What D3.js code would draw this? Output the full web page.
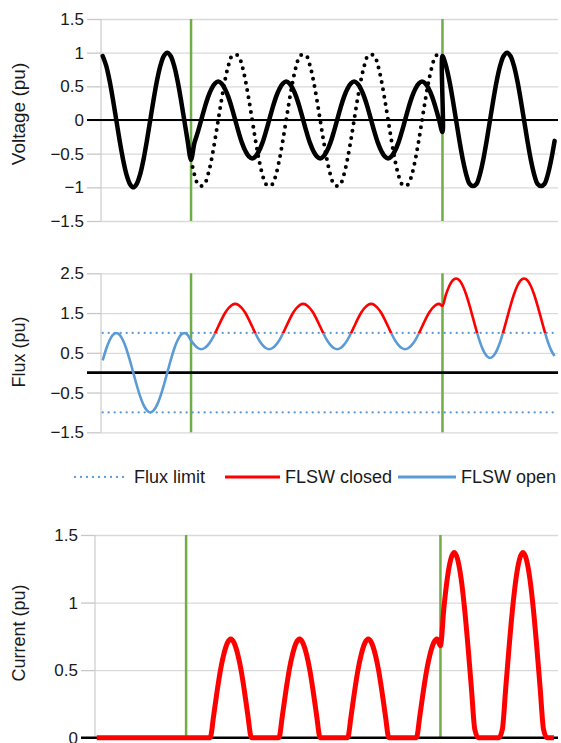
<!DOCTYPE html>
<html>
<head>
<meta charset="utf-8">
<script src="https://cdn.jsdelivr.net/npm/d3@7"></script>
<style>
body{margin:0;background:#fff;}
svg{display:block;font-family:"Liberation Sans",Arial,sans-serif;}
</style>
</head>
<body>
<div id="chart"></div>
<script>
// time axis in ms, one sample per ms, first sample at t=1
const tFirst = 1;
const switchTimes = [27, 101];   // green markers: FLSW event times

// source voltage (pu), t = 1..134
const vSource = [
  0.95, 0.81, 0.59, 0.31, 0.00, -0.31, -0.59, -0.81, -0.95, -1.00, -0.95, -0.81, -0.59, -0.31, 0.00, 0.31, 0.59, 0.81, 0.95, 1.00,
  0.95, 0.81, 0.59, 0.31, 0.00, -0.31, -0.59, -0.81, -0.95, -0.98, -0.95, -0.81, -0.59, -0.31, 0.00, 0.31, 0.59, 0.81, 0.95, 0.97,
  0.95, 0.81, 0.59, 0.31, 0.00, -0.31, -0.59, -0.81, -0.95, -0.98, -0.95, -0.81, -0.59, -0.31, 0.00, 0.31, 0.59, 0.81, 0.95, 0.97,
  0.95, 0.81, 0.59, 0.31, 0.00, -0.31, -0.59, -0.81, -0.95, -0.98, -0.95, -0.81, -0.59, -0.31, 0.00, 0.31, 0.59, 0.81, 0.95, 0.97,
  0.95, 0.81, 0.59, 0.31, 0.00, -0.31, -0.59, -0.81, -0.95, -0.98, -0.95, -0.81, -0.59, -0.31, 0.00, 0.31, 0.59, 0.81, 0.95, 0.97,
  0.95, 0.81, 0.59, 0.31, 0.00, -0.31, -0.59, -0.81, -0.95, -0.98, -0.95, -0.81, -0.59, -0.31, 0.00, 0.31, 0.59, 0.81, 0.95, 1.00,
  0.95, 0.81, 0.59, 0.31, 0.00, -0.31, -0.59, -0.81, -0.95, -0.98, -0.95, -0.81, -0.59, -0.31
];

// sagged voltage while FLSW window is active, t = 28..101
const vSagStart = 28;
const vSag = [
  -0.34, -0.18, 0.00, 0.18, 0.34, 0.46, 0.54, 0.57, 0.54, 0.46, 0.34, 0.18,
  0.00, -0.18, -0.34, -0.46, -0.54, -0.57, -0.54, -0.46, -0.34, -0.18, 0.00, 0.18, 0.34, 0.46, 0.54, 0.57, 0.54, 0.46, 0.34, 0.18,
  0.00, -0.18, -0.34, -0.46, -0.54, -0.57, -0.54, -0.46, -0.34, -0.18, 0.00, 0.18, 0.34, 0.46, 0.54, 0.57, 0.54, 0.46, 0.34, 0.18,
  0.00, -0.18, -0.34, -0.46, -0.54, -0.57, -0.54, -0.46, -0.34, -0.18, 0.00, 0.18, 0.34, 0.46, 0.54, 0.57, 0.54, 0.46, 0.34, 0.18,
  0.00, -0.18
];

// flux (pu), t = 1..134
const flux = [
  0.31, 0.59, 0.81, 0.95, 1.00, 0.95, 0.81, 0.59, 0.31, 0.00, -0.31, -0.59, -0.81, -0.95, -1.00, -0.95, -0.81, -0.59, -0.31, 0.00,
  0.31, 0.59, 0.81, 0.95, 1.00, 0.95, 0.81, 0.70, 0.62, 0.59, 0.62, 0.70, 0.82, 0.98, 1.16, 1.34, 1.50, 1.62, 1.70,
  1.73, 1.70, 1.62, 1.50, 1.34, 1.16, 0.98, 0.82, 0.70, 0.62, 0.59, 0.62, 0.70, 0.82, 0.98, 1.16, 1.34, 1.50, 1.62, 1.70,
  1.73, 1.70, 1.62, 1.50, 1.34, 1.16, 0.98, 0.82, 0.70, 0.62, 0.59, 0.62, 0.70, 0.82, 0.98, 1.16, 1.34, 1.50, 1.62, 1.70,
  1.73, 1.70, 1.62, 1.50, 1.34, 1.16, 0.98, 0.82, 0.70, 0.62, 0.59, 0.62, 0.70, 0.82, 0.98, 1.16, 1.34, 1.50, 1.62, 1.70,
  1.73, 1.68, 1.96, 2.18, 2.32, 2.37, 2.32, 2.18, 1.96, 1.68, 1.37, 1.06, 0.78, 0.56, 0.42, 0.37, 0.42, 0.56, 0.78, 1.06,
  1.37, 1.68, 1.96, 2.18, 2.32, 2.37, 2.32, 2.18, 1.96, 1.68, 1.37, 1.06, 0.78, 0.56, 0.42
];
const fluxLimit = [1, -1];

// current (pu), t = 1..134
const current = [
  0, 0, 0, 0, 0, 0, 0, 0, 0, 0, 0, 0, 0, 0, 0, 0, 0, 0, 0, 0,
  0, 0, 0, 0, 0, 0, 0, 0, 0, 0, 0, 0, 0, 0, 0.16, 0.34, 0.50, 0.62, 0.70,
  0.73, 0.70, 0.62, 0.50, 0.34, 0.16, 0, 0, 0, 0, 0, 0, 0, 0, 0, 0.16, 0.34, 0.50, 0.62, 0.70,
  0.73, 0.70, 0.62, 0.50, 0.34, 0.16, 0, 0, 0, 0, 0, 0, 0, 0, 0, 0.16, 0.34, 0.50, 0.62, 0.70,
  0.73, 0.70, 0.62, 0.50, 0.34, 0.16, 0, 0, 0, 0, 0, 0, 0, 0, 0, 0.16, 0.34, 0.50, 0.62, 0.70,
  0.73, 0.68, 0.96, 1.18, 1.32, 1.37, 1.32, 1.18, 0.96, 0.68, 0.37, 0.06, 0, 0, 0, 0, 0, 0, 0, 0.06,
  0.37, 0.68, 0.96, 1.18, 1.32, 1.37, 1.32, 1.18, 0.96, 0.68, 0.37, 0.06, 0, 0, 0
];

const voltTicks = [-1.5, -1, -0.5, 0, 0.5, 1, 1.5];
const fluxTicks = [-1.5, -0.5, 0.5, 1.5, 2.5];
const currTicks = [0, 0.5, 1, 1.5];
const legendLabels = ["Flux limit", "FLSW closed", "FLSW open"];

const W = 561, H = 743, RIGHT = 558;
const GREEN = "#70ad47", RED = "#ff0000", BLUE = "#5b9bd5";

const svg = d3.select("#chart").append("svg")
  .attr("width", W).attr("height", H);

// one panel: grid, y axis, title, zero line, switch markers
function panel(cfg){
  const x = d3.scaleLinear().domain(cfg.tDomain).range([cfg.left, RIGHT]);
  const y = d3.scaleLinear().domain(cfg.yDomain).range([cfg.bottom, cfg.top]);
  const g = svg.append("g");

  g.append("g")
    .attr("transform", `translate(${cfg.left},0)`)
    .call(d3.axisLeft(y).tickValues(cfg.ticks).tickSize(-(RIGHT - cfg.left)).tickFormat(""))
    .call(a => a.select(".domain").remove())
    .call(a => a.selectAll("line").attr("stroke", "#d9d9d9").attr("stroke-width", 1.3));

  g.append("line")
    .attr("x1", cfg.left).attr("x2", cfg.left)
    .attr("y1", cfg.top).attr("y2", cfg.bottom)
    .attr("stroke", "#d0d0d0").attr("stroke-width", 1.3);

  g.append("g")
    .attr("transform", `translate(${cfg.left},0)`)
    .call(d3.axisLeft(y).tickValues(cfg.ticks).tickSize(14).tickPadding(3).tickFormat(d3.format("")))
    .call(a => a.select(".domain").remove())
    .call(a => a.selectAll("line").attr("stroke", "#c8c8c8").attr("stroke-width", 1.3))
    .call(a => a.selectAll("text").attr("font-size", 17).attr("fill", "#1a1a1a")
      .attr("font-family", '"Liberation Sans",Arial,sans-serif'));

  g.append("text")
    .attr("transform", `translate(25,${cfg.titleY}) rotate(-90)`)
    .attr("text-anchor", "middle")
    .attr("font-size", cfg.titleSize)
    .attr("fill", "#1a1a1a")
    .text(cfg.title);

  g.selectAll(".switch")
    .data(switchTimes)
    .enter()
    .append("line")
      .attr("x1", d => x(d)).attr("x2", d => x(d))
      .attr("y1", cfg.top).attr("y2", cfg.bottom)
      .attr("stroke", GREEN).attr("stroke-width", 2.5);

  g.append("line")
    .attr("x1", cfg.left - 14).attr("x2", RIGHT)
    .attr("y1", y(0)).attr("y2", y(0))
    .attr("stroke", "#000").attr("stroke-width", cfg.zeroWidth);

  return {x, y, g};
}

// ---- voltage ----
const vPanel = panel({tDomain:[0.5, 135], left:101, top:19, bottom:221, yDomain:[-1.5, 1.5],
  ticks:voltTicks, title:"Voltage (pu)", titleY:114, titleSize:19, zeroWidth:2.2});

const srcPts = vSource.map((v, i) => ({t: tFirst + i, v: v}));
const sagPts = vSag.map((v, i) => ({t: vSagStart + i, v: v}));
const solidPts = srcPts.filter(d => d.t <= switchTimes[0])
  .concat(sagPts)
  .concat(srcPts.filter(d => d.t >= switchTimes[1]));
const dottedPts = srcPts.filter(d => d.t >= switchTimes[0] && d.t <= switchTimes[1]);

const vLine = d3.line().x(d => vPanel.x(d.t)).y(d => vPanel.y(d.v)).curve(d3.curveCatmullRom.alpha(0.5));

vPanel.g.append("path")
  .attr("d", vLine(dottedPts))
  .attr("fill", "none").attr("stroke", "#000")
  .attr("stroke-width", 4).attr("stroke-linecap", "round")
  .attr("stroke-dasharray", "0,7.4");

vPanel.g.append("path")
  .attr("d", vLine(solidPts))
  .attr("fill", "none").attr("stroke", "#000")
  .attr("stroke-width", 4.5).attr("stroke-linejoin", "round").attr("stroke-linecap", "round");

// ---- flux ----
const fPanel = panel({tDomain:[0.5, 135], left:101, top:273.3, bottom:432.3, yDomain:[-1.5, 2.5],
  ticks:fluxTicks, title:"Flux (pu)", titleY:352, titleSize:18, zeroWidth:2.7});

const fluxPts = flux.map((v, i) => ({t: tFirst + i, v: v}));
const fLine = d3.line().x(d => fPanel.x(d.t)).y(d => fPanel.y(d.v)).curve(d3.curveMonotoneX);

fPanel.g.selectAll(".limit")
  .data(fluxLimit)
  .enter()
  .append("line")
    .attr("x1", fPanel.x(tFirst)).attr("x2", fPanel.x(tFirst + flux.length - 1))
    .attr("y1", d => fPanel.y(d)).attr("y2", d => fPanel.y(d))
    .attr("stroke", BLUE).attr("stroke-width", 2.3)
    .attr("stroke-linecap", "round").attr("stroke-dasharray", "0,6");

// closed region: after the first switch, above the limit
const xs = fPanel.x(switchTimes[0]), yl = fPanel.y(fluxLimit[0]);
const defs = svg.append("defs");
defs.append("clipPath").attr("id", "clipRed")
  .append("rect").attr("x", xs).attr("y", 250).attr("width", W - xs).attr("height", yl - 250);
const cb = defs.append("clipPath").attr("id", "clipBlue");
cb.append("rect").attr("x", 0).attr("y", 250).attr("width", xs).attr("height", 200);
cb.append("rect").attr("x", xs).attr("y", yl).attr("width", W - xs).attr("height", 200);

fPanel.g.append("path")
  .attr("d", fLine(fluxPts)).attr("clip-path", "url(#clipBlue)")
  .attr("fill", "none").attr("stroke", BLUE).attr("stroke-width", 2.6).attr("stroke-linejoin", "round");
fPanel.g.append("path")
  .attr("d", fLine(fluxPts)).attr("clip-path", "url(#clipRed)")
  .attr("fill", "none").attr("stroke", RED).attr("stroke-width", 2.6).attr("stroke-linejoin", "round");

// ---- legend ----
const leg = svg.append("g").attr("font-size", 18).attr("fill", "#1a1a1a");
const legItems = [
  {x0:75, x1:129, color:BLUE, dash:"0,6", w:2.3, tx:134},
  {x0:225, x1:280, color:RED, dash:null, w:3, tx:285},
  {x0:398, x1:456, color:BLUE, dash:null, w:3, tx:461}
];
legItems.forEach((d, i) => {
  leg.append("line")
    .attr("x1", d.x0).attr("x2", d.x1).attr("y1", 477).attr("y2", 477)
    .attr("stroke", d.color).attr("stroke-width", d.w)
    .attr("stroke-linecap", d.dash ? "round" : "butt")
    .attr("stroke-dasharray", d.dash);
  leg.append("text").attr("x", d.tx).attr("y", 477).attr("dy", "0.35em")
    .text(legendLabels[i]);
});

// ---- current ----
const cPanel = panel({tDomain:[0.5, 135.2], left:95, top:535, bottom:737.7, yDomain:[0, 1.5],
  ticks:currTicks, title:"Current (pu)", titleY:633, titleSize:18, zeroWidth:2.6});

const currPts = current.map((v, i) => ({t: tFirst + i, v: v}));
const cLine = d3.line().x(d => cPanel.x(d.t)).y(d => cPanel.y(d.v)).curve(d3.curveMonotoneX);

cPanel.g.append("path")
  .attr("d", cLine(currPts))
  .attr("fill", "none").attr("stroke", RED)
  .attr("stroke-width", 5).attr("stroke-linejoin", "round");
</script>
</body>
</html>
